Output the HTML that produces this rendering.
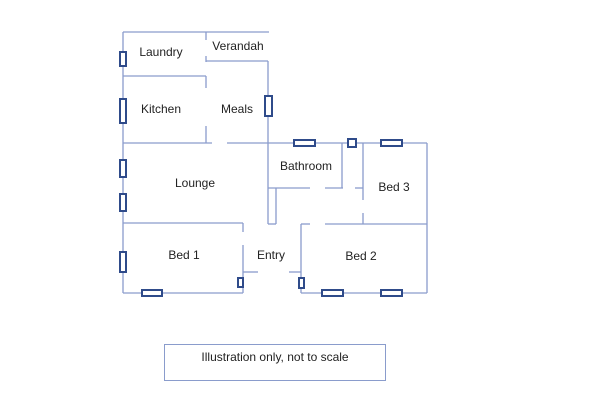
<!DOCTYPE html>
<html><head><style>
html,body{margin:0;padding:0;background:#fff;}
svg{display:block;}
text{font-family:"Liberation Sans",sans-serif;font-size:12px;fill:#222;}
</style></head><body>
<svg width="609" height="400" viewBox="0 0 609 400">
<g stroke="#8a9ccc" stroke-width="1.3" fill="none">
<line x1="123" y1="32" x2="269" y2="32"/>
<line x1="123" y1="32" x2="123" y2="293"/>
<line x1="206" y1="32" x2="206" y2="40"/>
<line x1="206" y1="56" x2="206" y2="62"/>
<line x1="206" y1="61" x2="268" y2="61"/>
<line x1="268" y1="61" x2="268" y2="224"/>
<line x1="123" y1="76" x2="206" y2="76"/>
<line x1="206" y1="76" x2="206" y2="88"/>
<line x1="206" y1="126" x2="206" y2="143"/>
<line x1="123" y1="143" x2="212" y2="143"/>
<line x1="227" y1="143" x2="427" y2="143"/>
<line x1="268" y1="188" x2="310" y2="188"/>
<line x1="325" y1="188" x2="343" y2="188"/>
<line x1="355" y1="188" x2="363" y2="188"/>
<line x1="276" y1="188" x2="276" y2="224"/>
<line x1="268" y1="224" x2="276" y2="224"/>
<line x1="342" y1="143" x2="342" y2="188"/>
<line x1="363" y1="143" x2="363" y2="200"/>
<line x1="363" y1="213" x2="363" y2="224"/>
<line x1="123" y1="223" x2="243" y2="223"/>
<line x1="243" y1="223" x2="243" y2="232"/>
<line x1="243" y1="245" x2="243" y2="293"/>
<line x1="123" y1="293" x2="243" y2="293"/>
<line x1="243" y1="272" x2="258" y2="272"/>
<line x1="289" y1="272" x2="301" y2="272"/>
<line x1="301" y1="224" x2="301" y2="293"/>
<line x1="301" y1="224" x2="310" y2="224"/>
<line x1="325" y1="224" x2="427" y2="224"/>
<line x1="427" y1="143" x2="427" y2="293"/>
<line x1="301" y1="293" x2="427" y2="293"/>
</g>
<g stroke="#2f4b8a" stroke-width="2" fill="#fff">
<rect x="120" y="52" width="6" height="14"/>
<rect x="120" y="99" width="6" height="24"/>
<rect x="120" y="160" width="6" height="17"/>
<rect x="120" y="194" width="6" height="17"/>
<rect x="120" y="252" width="6" height="20"/>
<rect x="265" y="96" width="7" height="20"/>
<rect x="142" y="290" width="20" height="6"/>
<rect x="238" y="278" width="5" height="9"/>
<rect x="299" y="278" width="5" height="10"/>
<rect x="322" y="290" width="21" height="6"/>
<rect x="381" y="290" width="21" height="6"/>
<rect x="294" y="140" width="21" height="6"/>
<rect x="348" y="139" width="8" height="8"/>
<rect x="381" y="140" width="21" height="6"/>
</g>
<text x="161" y="56" text-anchor="middle">Laundry</text>
<text x="238" y="50" text-anchor="middle">Verandah</text>
<text x="161" y="113" text-anchor="middle">Kitchen</text>
<text x="237" y="113" text-anchor="middle">Meals</text>
<text x="195" y="187" text-anchor="middle">Lounge</text>
<text x="306" y="170" text-anchor="middle">Bathroom</text>
<text x="394" y="191" text-anchor="middle">Bed 3</text>
<text x="184" y="259" text-anchor="middle">Bed 1</text>
<text x="271" y="259" text-anchor="middle">Entry</text>
<text x="361" y="260" text-anchor="middle">Bed 2</text>
<rect x="164.5" y="344.5" width="221" height="36" fill="none" stroke="#8a9ccc" stroke-width="1"/>
<text x="275" y="361" text-anchor="middle">Illustration only, not to scale</text>
</svg>
</body></html>
